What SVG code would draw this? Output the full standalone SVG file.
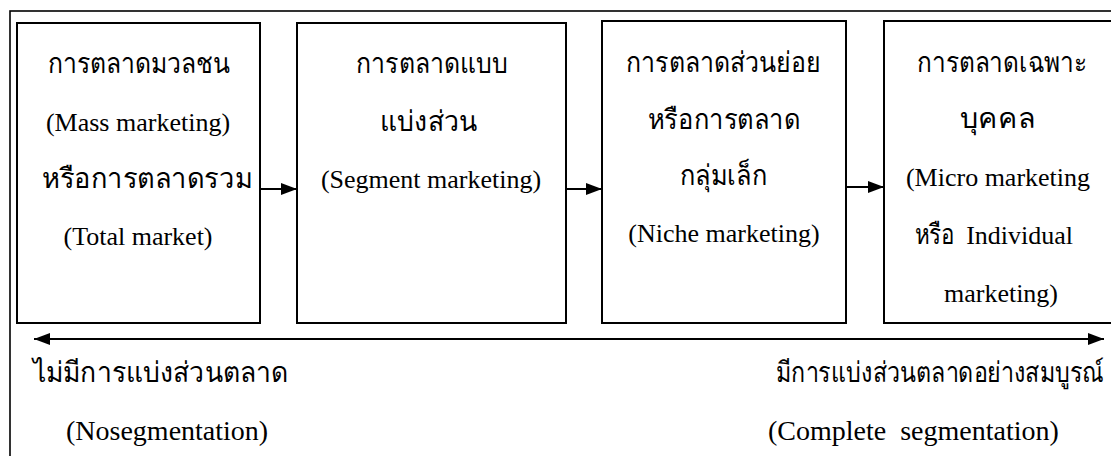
<svg xmlns="http://www.w3.org/2000/svg" width="1111" height="456" viewBox="0 0 1111 456">
<style>
.box{fill:#fff;stroke:#000;stroke-width:2}
.frame{fill:none;stroke:#000;stroke-width:1.6}
.t{font-family:"Liberation Serif","Times New Roman",serif;font-size:26px;fill:#000;text-anchor:middle}
.tb{font-family:"Liberation Serif","Times New Roman",serif;font-size:28px;fill:#000;white-space:pre}
.th{font-family:"Liberation Serif","Times New Roman",serif;font-size:28px;fill:#000;font-weight:normal}
.ln{stroke:#000;stroke-width:2;fill:none}
</style>
<defs>
<marker id="ah2" viewBox="0 0 16 12" refX="16" refY="6" markerWidth="16" markerHeight="12" markerUnits="userSpaceOnUse" orient="auto-start-reverse">
<path d="M0,0 L16,6 L0,12 z" fill="#000"/>
</marker>
</defs>
<rect width="1111" height="456" fill="#fff"/>
<rect id="frame" class="frame" x="10" y="11" width="1120" height="460"/>
<g id="n1">
<rect class="box" x="17" y="23" width="243" height="300"/>
<text class="th" x="48" y="73" textLength="182" lengthAdjust="spacingAndGlyphs">การตลาดมวลชน</text>
<text class="t" x="138" y="131">(Mass marketing)</text>
<text class="th" x="42" y="188" textLength="210" lengthAdjust="spacingAndGlyphs">หรือการตลาดรวม</text>
<text class="t" x="138" y="245">(Total market)</text>
</g>
<g id="n2">
<rect class="box" x="297" y="23" width="269" height="300"/>
<text class="th" x="356" y="73" textLength="152" lengthAdjust="spacingAndGlyphs">การตลาดแบบ</text>
<text class="th" x="380" y="131" textLength="97" lengthAdjust="spacingAndGlyphs">แบ่งส่วน</text>
<text class="t" x="431" y="188">(Segment marketing)</text>
</g>
<g id="n3">
<rect class="box" x="602" y="21" width="244" height="302"/>
<text class="th" x="626" y="72" textLength="194" lengthAdjust="spacingAndGlyphs">การตลาดส่วนย่อย</text>
<text class="th" x="648" y="129" textLength="152" lengthAdjust="spacingAndGlyphs">หรือการตลาด</text>
<text class="th" x="680" y="185" textLength="87" lengthAdjust="spacingAndGlyphs">กลุ่มเล็ก</text>
<text class="t" x="724" y="242">(Niche marketing)</text>
</g>
<g id="n4">
<rect class="box" x="884" y="21" width="240" height="302"/>
<text class="th" x="917" y="72" textLength="170" lengthAdjust="spacingAndGlyphs">การตลาดเฉพาะ</text>
<text class="th" x="960" y="128" textLength="75" lengthAdjust="spacingAndGlyphs">บุคคล</text>
<text class="t" x="998" y="186">(Micro marketing</text>
<text class="th" x="915" y="244" textLength="40" lengthAdjust="spacingAndGlyphs">หรือ</text>
<text class="t" x="1073" y="244" style="text-anchor:end">Individual</text>
<text class="t" x="1001" y="302">marketing)</text>
</g>
<g id="connectors">
<line class="ln" x1="260" y1="189" x2="297" y2="189" marker-end="url(#ah2)"/>
<line class="ln" x1="566" y1="189" x2="602" y2="189" marker-end="url(#ah2)"/>
<line class="ln" x1="846" y1="187" x2="884" y2="187" marker-end="url(#ah2)"/>
<line class="ln" x1="34" y1="339" x2="1104" y2="339" marker-start="url(#ah2)" marker-end="url(#ah2)"/>
</g>
<g id="labels">
<text class="th" x="33" y="382" font-size="30" textLength="255" lengthAdjust="spacingAndGlyphs">ไม่มีการแบ่งส่วนตลาด</text>
<text class="tb" x="66" y="440">(Nosegmentation)</text>
<g transform="translate(776,382) scale(0.83,1)">
<text class="th" x="0" y="0" font-size="30">มีการแบ่งส่วนตลาดอย่างสมบูรณ์</text>
</g>
<text class="tb" x="768" y="440">(Complete  segmentation)</text>
</g>
</svg>
